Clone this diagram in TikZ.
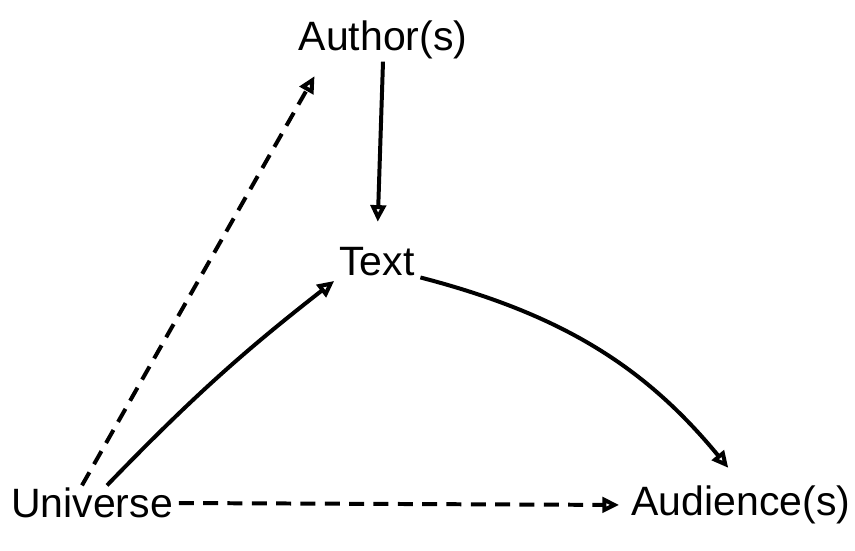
\documentclass[tikz,border=0pt]{standalone}
\usepackage{fontspec}
\setmainfont{Liberation Sans}
\usetikzlibrary{arrows.meta}
\tikzstyle{word} = [font=\fontsize{35}{40}\selectfont, inner sep=2pt]
\tikzstyle{link} = [-{Triangle[open, length=5mm, width=4.6mm]}, line width=3.4pt]
\tikzstyle{hint} = [link, dash pattern=on 4.5mm off 2.8mm]

\begin{document}
\begin{tikzpicture}[x=0.3mm, y=-0.3mm]
    \useasboundingbox (0,0) rectangle (855,551);
    \node (author) [word] at (383,40) {Author(s)};
    \node (text) [word] at (377,262) {Text};
    \node (universe) [word] at (92,503) {Universe};
    \node (audience) [word] at (741,505) {Audience(s)};

    % Arrows.
    \draw [link, shorten >=7mm] (author.south) -- (text.north);
    \draw [hint, shorten >=5mm] ([xshift=-3mm]universe.north) -- ([xshift=8mm]author.south west);
    \draw [link, shorten >=1mm] ([xshift=4.5mm]universe.north) to [bend left=4] (text.south west);
    \draw [link, shorten <=1mm, shorten >=6mm] (text.-20) to [bend left=18] (audience.north);
    \draw [hint, shorten <=1mm, shorten >=3mm] (universe.east) -- (audience.west);
\end{tikzpicture}
\end{document}
